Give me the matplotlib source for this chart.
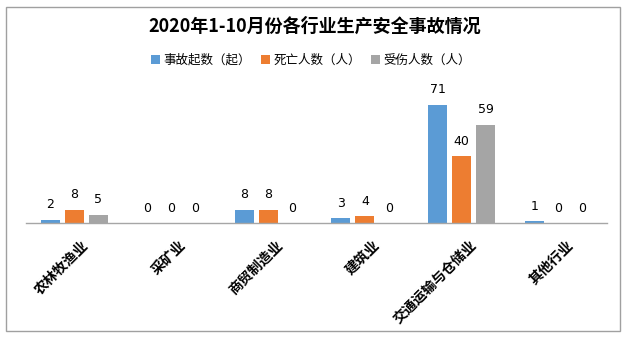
import matplotlib
matplotlib.use("Agg")
import matplotlib.pyplot as plt
import numpy as np
from matplotlib.patches import Rectangle
import matplotlib.transforms as mtransforms

plt.rcParams['font.family'] = ['Noto Sans CJK SC', 'DejaVu Sans']

title = "2020年1-10月份各行业生产安全事故情况"
categories = ["农林牧渔业", "采矿业", "商贸制造业", "建筑业", "交通运输与仓储业", "其他行业"]
series_names = ["事故起数（起）", "死亡人数（人）", "受伤人数（人）"]
accidents = [2, 0, 8, 3, 71, 1]
deaths = [8, 0, 8, 4, 40, 0]
injuries = [5, 0, 0, 0, 59, 0]
colors = ["#5B9BD5", "#ED7D31", "#A5A5A5"]

fig = plt.figure(figsize=(6.29, 3.40), dpi=100)
fig.patches.append(Rectangle((6/629, 1-331/340), (620-6)/629, (331-7)/340,
                             transform=fig.transFigure, fill=False,
                             edgecolor="#A0A0A0", linewidth=1.0))

ax = fig.add_axes([26/629, 1-223/340, (607-26)/629, (223-90)/340])
x = np.arange(len(categories))
w = 0.196
step = 0.248
data = [accidents, deaths, injuries]
for i, (vals, name, c) in enumerate(zip(data, series_names, colors)):
    pos = x + (i - 1) * step
    bars = ax.bar(pos, vals, width=w, color=c, label=name, zorder=2)
    for p, v in zip(pos, vals):
        ax.annotate(str(v), (p, v), xytext=(0, 15), textcoords="offset pixels",
                    ha="center", va="center", fontsize=9, color="#000000",
                    family=['DejaVu Sans'])

ax.set_xlim(-0.5, len(categories) - 0.5)
ax.set_ylim(0, 80)
ax.set_yticks([])
for s in ["left", "right", "top"]:
    ax.spines[s].set_visible(False)
ax.spines["bottom"].set_color("#A6A6A6")
ax.spines["bottom"].set_linewidth(1.0)
ax.set_xticks(x)
ax.set_xticklabels(categories, rotation=45, ha="right", va="center",
                   rotation_mode="anchor", fontsize=10, fontweight="bold")
ax.tick_params(axis="x", length=0)
offset = mtransforms.ScaledTranslation(12/100, -15/100, fig.dpi_scale_trans)
for lab in ax.get_xticklabels():
    lab.set_transform(lab.get_transform() + offset)

fig.text(0.5, 1-26/340, title, ha="center", va="center", fontsize=13,
         fontweight="bold")
fig.legend(loc="center", bbox_to_anchor=(0.495, 1-60/340), ncol=3, frameon=False,
           fontsize=9, handlelength=0.7, handleheight=0.7, handletextpad=0.3,
           columnspacing=0.8)

fig.savefig("out.png", dpi=100)
